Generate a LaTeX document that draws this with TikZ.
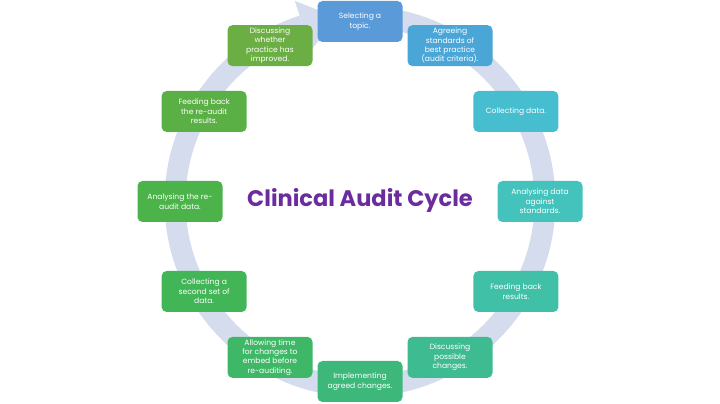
\documentclass[tikz,border=0pt]{standalone}
\usepackage{fontspec}
\setmainfont{Poppins}
\newfontfamily\titulofont{Poppins}
\definecolor{anillo}{HTML}{D5DCEE}
\definecolor{titulo}{HTML}{6B2D9E}
\definecolor{c1}{HTML}{5B9AD8}
\definecolor{c2}{HTML}{4BA6D8}
\definecolor{c3}{HTML}{47BDD0}
\definecolor{c4}{HTML}{44C3BC}
\definecolor{c5}{HTML}{41C0A8}
\definecolor{c6}{HTML}{3FBB92}
\definecolor{c7}{HTML}{3DB87A}
\definecolor{c8}{HTML}{3EB866}
\definecolor{c9}{HTML}{42B556}
\definecolor{c10}{HTML}{4BB34A}
\definecolor{c11}{HTML}{5AAF45}
\definecolor{c12}{HTML}{6BAE43}
\begin{document}
\begin{tikzpicture}[x=1pt, y=1pt,
    caja/.style={rounded corners=5pt, minimum width=85pt, minimum height=41pt,
        inner sep=1pt, align=center, text=white, font=\fontsize{7.6}{9.4}\selectfont}]
    % Marco
    \useasboundingbox (0,0) rectangle (720,404);

    \begin{scope}[shift={(360,202.5)}]
        % Anillo con flecha
        \draw[anillo, line width=21pt] (92:185) arc[start angle=92, end angle=-252, radius=185];
        \fill[anillo] (108:211) -- (97:185) -- (108:159) -- cycle;

        % Etapas del ciclo
        \node[caja, fill=c1] (seleccion) at (90:180) {Selecting a\\topic.};
        \node[caja, fill=c2] (estandares) at (60:180) {Agreeing\\standards of\\best practice\\(audit criteria).};
        \node[caja, fill=c3] (recogida) at (30:180) {Collecting data.};
        \node[caja, fill=c4] (analisis) at (0:180) {Analysing data\\against\\standards.};
        \node[caja, fill=c5] (retro) at (-30:180) {Feeding back\\results.};
        \node[caja, fill=c6] (discusion) at (-60:180) {Discussing\\possible\\changes.};
        \node[caja, fill=c7] (implementacion) at (-90:180) {Implementing\\agreed changes.};
        \node[caja, fill=c8] (espera) at (-120:180) {Allowing time\\for changes to\\embed before\\re-auditing.};
        \node[caja, fill=c9] (recogidados) at (-150:180) {Collecting a\\second set of\\data.};
        \node[caja, fill=c10] (reanalisis) at (180:180) {Analysing the re-\\audit data.};
        \node[caja, fill=c11] (reretro) at (150:180) {Feeding back\\the re-audit\\results.};
        \node[caja, fill=c12] (mejora) at (120:180) {Discussing\\whether\\practice has\\improved.};

        % Titulo
        \node[text=titulo, font=\titulofont\bfseries\fontsize{22.5}{26}\selectfont] (titulo) at (0,1) {Clinical Audit Cycle};
    \end{scope}
\end{tikzpicture}
\end{document}
